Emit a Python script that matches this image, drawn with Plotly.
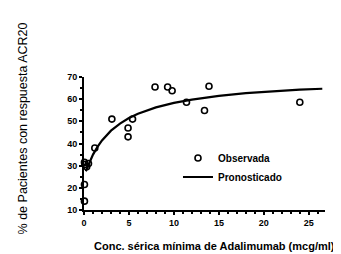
import plotly.graph_objects as go

# Observed data (Conc. sérica mínima, % respuesta ACR20)
obs_conc = [0.05, 0.1, 0.3, 0.5, 0.05, 0.05, 1.2, 3.1, 4.9, 4.9, 5.4, 7.9, 9.3, 9.8, 11.4, 13.4, 13.9, 24.0]
obs_resp = [31.5, 30.5, 29.5, 31.0, 21.5, 14.0, 38.0, 51.0, 47.0, 43.0, 51.0, 65.5, 65.5, 63.8, 58.6, 54.9, 65.8, 58.6]

# Predicted curve
pred_conc = [0.2, 0.6, 1.0, 1.5, 2.0, 3.0, 4.0, 5.0, 6.0, 8.0, 10.0, 12.0, 15.0, 18.0, 21.0, 24.0, 26.5]
pred_resp = [27.5, 31.6, 35.0, 38.5, 41.4, 45.8, 49.0, 51.5, 53.4, 56.3, 58.3, 59.8, 61.5, 62.7, 63.6, 64.3, 64.7]

x_ticks = [0, 5, 10, 15, 20, 25]
y_ticks = [10, 20, 30, 40, 50, 60, 70]

FONT = "Liberation Sans"

fig = go.Figure()
fig.add_trace(go.Scatter(
    x=pred_conc, y=pred_resp, mode="lines", name="Pronosticado",
    line=dict(color="black", width=2.2), cliponaxis=False,
))
fig.add_trace(go.Scatter(
    x=obs_conc, y=obs_resp, mode="markers", name="Observada",
    marker=dict(symbol="circle-open", size=6, color="black", line=dict(width=1.6)),
    cliponaxis=False,
))

fig.update_layout(
    width=341, height=254,
    margin=dict(l=76, r=24, t=69, b=52),
    paper_bgcolor="white", plot_bgcolor="white",
    font=dict(family=FONT, color="black", size=9),
    showlegend=True,
    legend=dict(x=0.39, y=0.50, xanchor="left", yanchor="top",
                font=dict(size=10, family=FONT, weight="bold"),
                bgcolor="rgba(0,0,0,0)", traceorder="reversed",
                itemwidth=30, tracegroupgap=0),
    xaxis=dict(range=[0, 26.8], tickvals=x_ticks, showgrid=False, zeroline=False,
               showline=True, linecolor="black", linewidth=2,
               ticks="outside", ticklen=3, tickwidth=1.5, tickcolor="black",
               tickfont=dict(size=9, family=FONT, weight="bold"),
               minor=dict(dtick=1, ticks="outside", ticklen=2, tickcolor="black")),
    yaxis=dict(range=[10, 70], tickvals=y_ticks, showgrid=False, zeroline=False,
               showline=True, linecolor="black", linewidth=2,
               ticks="outside", ticklen=3, tickwidth=1.5, tickcolor="black",
               tickfont=dict(size=9, family=FONT, weight="bold"),
               minor=dict(dtick=5, ticks="outside", ticklen=2, tickcolor="black")),
    annotations=[
        dict(text="% de Pacientes con respuesta ACR20", textangle=-90,
             xref="paper", yref="paper", x=-0.255, y=0.61,
             xanchor="center", yanchor="middle", showarrow=False,
             font=dict(size=12.5, family=FONT)),
        dict(text="Conc. sérica mínima de Adalimumab (mcg/ml)",
             xref="paper", yref="paper", x=0.035, y=-0.27,
             xanchor="left", yanchor="middle", showarrow=False,
             font=dict(size=11, family=FONT, weight="bold")),
    ],
)

fig.write_html("out.html")
